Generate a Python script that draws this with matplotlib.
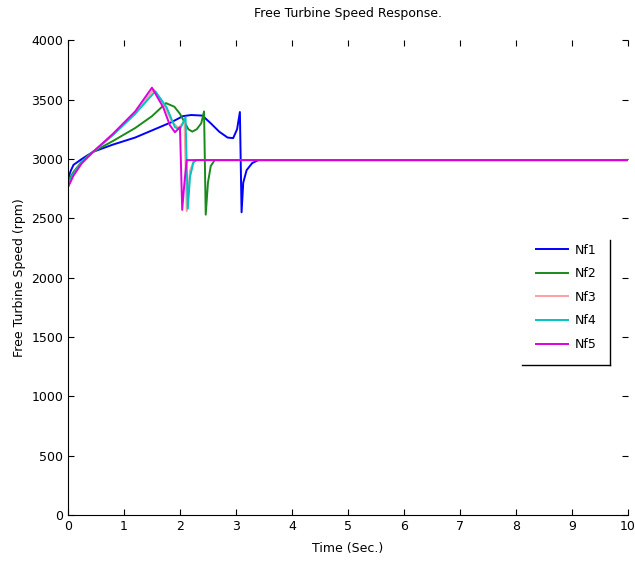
import matplotlib
matplotlib.use("Agg")
import matplotlib.pyplot as plt
from matplotlib.lines import Line2D

# speed traces (time in s, speed in rpm)
t_nf1 = [0, 0.05, 0.1, 0.25, 0.45, 0.8, 1.2, 1.6, 1.85, 2.05, 2.2, 2.4, 2.55, 2.7,
         2.85, 2.95, 3.02, 3.07, 3.1, 3.13, 3.19, 3.29, 3.4, 10]
nf1 = [2830, 2900, 2950, 3000, 3060, 3120, 3180, 3260, 3310, 3360, 3370, 3365, 3300, 3230,
       3180, 3175, 3250, 3395, 2550, 2800, 2905, 2965, 2990, 2990]

t_nf2 = [0, 0.05, 0.1, 0.25, 0.45, 0.8, 1.2, 1.5, 1.75, 1.9, 2.0, 2.08, 2.15, 2.22,
         2.3, 2.38, 2.43, 2.46, 2.5, 2.55, 2.62, 10]
nf2 = [2800, 2850, 2890, 2980, 3060, 3150, 3260, 3360, 3470, 3440, 3380, 3310, 3250, 3230,
       3250, 3300, 3400, 2530, 2800, 2940, 2990, 2990]

t_nf3 = [0, 0.1, 0.25, 0.45, 0.8, 1.2, 1.53, 1.7, 1.85, 1.97, 2.05, 2.08, 2.12, 2.18, 2.25, 10]
nf3 = [2780, 2870, 2970, 3060, 3200, 3380, 3585, 3470, 3320, 3260, 3300, 3320, 2560, 2900, 2990, 2990]

t_nf4 = [0, 0.1, 0.25, 0.45, 0.8, 1.2, 1.56, 1.76, 1.91, 2.0, 2.1, 2.14, 2.18, 2.24, 2.3, 10]
nf4 = [2790, 2875, 2975, 3060, 3200, 3380, 3570, 3436, 3267, 3250, 3350, 2580, 2850, 2970, 2990, 2990]

t_nf5 = [0, 0.1, 0.25, 0.45, 0.8, 1.2, 1.5, 1.7, 1.82, 1.91, 2.0, 2.04, 2.08, 2.12, 10]
nf5 = [2760, 2860, 2965, 3060, 3210, 3400, 3600, 3436, 3284, 3225, 3267, 2570, 2800, 2990, 2990]

labels = ["Nf1", "Nf2", "Nf3", "Nf4", "Nf5"]
colors = ["#0000ff", "#1a8a1a", "#ff9f9f", "#00c4c4", "#dd00dd"]
x_ticks = list(range(0, 11))
y_ticks = list(range(0, 4001, 500))

fig = plt.figure(figsize=(6.35, 5.67), dpi=100)
ax = fig.add_axes([0.107, 0.092, 0.882, 0.837])

series = [(t_nf1, nf1), (t_nf2, nf2), (t_nf3, nf3), (t_nf4, nf4), (t_nf5, nf5)]
for (t, y), lab, c in zip(series, labels, colors):
    ax.plot(t, y, color=c, lw=1.4, label=lab)

ax.set_xlim(0, 10)
ax.set_ylim(0, 4000)
ax.set_xticks(x_ticks)
ax.set_yticks(y_ticks)
ax.tick_params(direction="in", top=True, right=True, labelsize=9, length=4)
ax.spines["top"].set_visible(False)
ax.spines["right"].set_visible(False)

ax.set_title("Free Turbine Speed Response.", fontsize=9, pad=17)
ax.set_xlabel("Time (Sec.)", fontsize=9, labelpad=7)
ax.set_ylabel("Free Turbine Speed (rpm)", fontsize=9, labelpad=4)

leg = ax.legend(loc="lower right", bbox_to_anchor=(0.968, 0.316), frameon=False,
                fontsize=9, handlelength=2.6, labelspacing=0.85, borderpad=0.6,
                handletextpad=0.5)
# only the right and bottom edges of the legend box show in the reference
ax.add_line(Line2D([0.968, 0.968], [0.316, 0.58], transform=ax.transAxes,
                   color="black", lw=1.0))
ax.add_line(Line2D([0.81, 0.968], [0.316, 0.316], transform=ax.transAxes,
                   color="black", lw=1.0))

fig.savefig("out.png", dpi=100)
